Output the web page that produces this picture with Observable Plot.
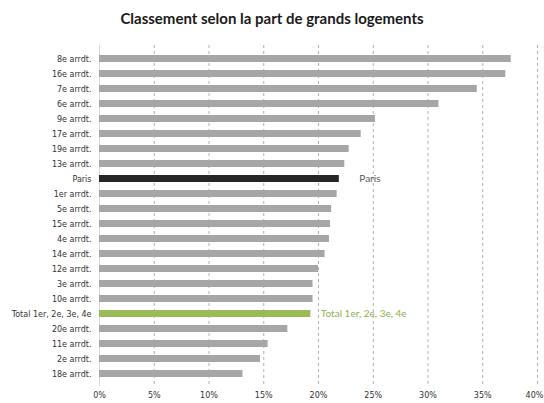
<!DOCTYPE html>
<html>
<head>
<meta charset="utf-8">
<script src="https://cdn.jsdelivr.net/npm/d3@7"></script>
<script src="https://cdn.jsdelivr.net/npm/@observablehq/plot@0.6"></script>
<style>
  html, body { margin: 0; padding: 0; background: #fff; }
  #title { width: 544px; height: 32px; box-sizing: border-box; padding-top: 10px; text-align: center;
    font: bold 15px Lato, "Open Sans", sans-serif; line-height: 16px; color: #1a1a1a; }
  #chart svg { display: block; }
</style>
</head>
<body>
<div id="title">Classement selon la part de grands logements</div>
<div id="chart"></div>
<script>
const categories = ["8e arrdt.", "16e arrdt.", "7e arrdt.", "6e arrdt.", "9e arrdt.", "17e arrdt.", "19e arrdt.", "13e arrdt.",
  "Paris", "1er arrdt.", "5e arrdt.", "15e arrdt.", "4e arrdt.", "14e arrdt.", "12e arrdt.", "3e arrdt.", "10e arrdt.",
  "Total 1er, 2e, 3e, 4e", "20e arrdt.", "11e arrdt.", "2e arrdt.", "18e arrdt."];
const values = [37.6, 37.1, 34.5, 31.0, 25.2, 23.9, 22.8, 22.4,
  21.9, 21.7, 21.2, 21.1, 21.0, 20.6, 20.0, 19.5, 19.5,
  19.3, 17.2, 15.4, 14.7, 13.1];
const xTicks = [0, 5, 10, 15, 20, 25, 30, 35];
const xTickLast = [40];
const gridTicks = [5, 10, 15, 20, 25, 30, 35, 40];

const colorOf = c => c === "Paris" ? "#262626" : (c.startsWith("Total") ? "#9bbb59" : "#a6a6a6");
const data = categories.map((c, i) => ({cat: c, value: values[i], color: colorOf(c)}));

const chart = Plot.plot({
  width: 544,
  height: 371,
  marginLeft: 99,
  marginRight: 7,
  marginTop: 13,
  marginBottom: 17,
  style: {fontFamily: "'DejaVu Sans', sans-serif", fontSize: "8px", color: "#333", background: "#fff"},
  x: {domain: [0, 40], label: null},
  y: {domain: categories, paddingInner: 0.55, paddingOuter: 0.31, label: null},
  marks: [
    Plot.ruleX(gridTicks, {stroke: "#b0b0b0", strokeWidth: 1, strokeDasharray: "3,3"}),
    Plot.ruleX([0], {stroke: "#d9d9d9", strokeWidth: 1}),
    Plot.barX(data, {x: "value", y: "cat", fill: "color"}),
    Plot.text(data.filter(d => d.cat === "Paris"), {x: "value", y: "cat", text: d => "Paris", dx: 20, textAnchor: "start", fill: "#595959", fontSize: 10, fontFamily: "Lato, sans-serif"}),
    Plot.text(data.filter(d => d.cat.startsWith("Total")), {x: "value", y: "cat", text: d => d.cat, dx: 10, textAnchor: "start", fill: "#8db050", fontSize: 10, fontFamily: "Lato, sans-serif"}),
    Plot.axisX({ticks: xTicks, tickFormat: d => d + "%", tickSize: 0, tickPadding: 6, label: null}),
    Plot.axisX({ticks: xTickLast, tickFormat: d => d + "%", tickSize: 0, tickPadding: 6, dx: -3, label: null}),
    Plot.axisY({tickSize: 0, tickPadding: 8, label: null})
  ]
});
document.getElementById("chart").appendChild(chart);
</script>
</body>
</html>
